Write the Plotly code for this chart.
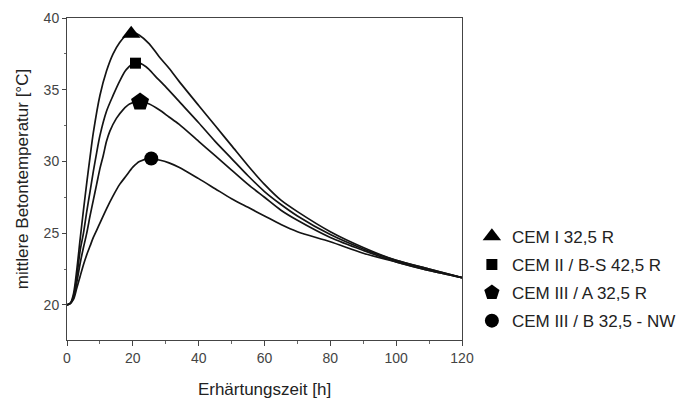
import plotly.graph_objects as go

hours_1 = [0, 1, 2, 3, 4, 5, 6, 7, 8, 10, 12, 14, 16, 18, 20, 22, 25, 28, 31, 34, 40, 45, 50, 55, 60, 65, 70, 80, 90, 100, 110, 120]
temp_1 = [20, 20.1, 20.8, 22.5, 24.6, 26.6, 28.5, 30.3, 32.0, 34.6, 36.3, 37.5, 38.3, 38.8, 39.0, 38.8, 38.2, 37.3, 36.5, 35.6, 33.9, 32.5, 31.1, 29.7, 28.4, 27.3, 26.5, 25.1, 24.0, 23.1, 22.5, 21.9]

hours_2 = [0, 1, 2, 3, 4, 5, 6, 7, 8, 9, 10, 12, 14, 16, 18, 21, 24, 27, 30, 34, 40, 45, 50, 55, 60, 65, 70, 80, 90, 100, 110, 120]
temp_2 = [20, 20.1, 20.6, 22.0, 23.8, 25.0, 26.5, 27.9, 29.3, 30.6, 31.8, 33.5, 34.6, 35.6, 36.4, 36.9, 36.6, 35.9, 35.2, 34.2, 32.7, 31.4, 30.2, 29.0, 27.9, 27.0, 26.2, 24.9, 23.9, 23.1, 22.5, 21.9]

hours_3 = [0, 1, 2, 3, 4, 5, 6, 7, 8, 9, 10, 11, 12, 13, 15, 17, 19, 22, 25, 28, 31, 34, 40, 45, 50, 55, 60, 65, 70, 80, 90, 100, 110, 120]
temp_3 = [20, 20.1, 20.5, 21.6, 22.9, 24.0, 25.0, 26.2, 27.3, 28.4, 29.5, 30.4, 31.4, 32.1, 33.0, 33.6, 34.0, 34.2, 34.0, 33.6, 33.1, 32.6, 31.4, 30.4, 29.4, 28.4, 27.5, 26.6, 25.9, 24.7, 23.8, 23.0, 22.4, 21.9]

hours_4 = [0, 1, 2, 3, 4, 5, 6, 7, 8, 9, 10, 12, 14, 16, 18, 20, 22, 25.5, 28, 31, 34, 40, 45, 50, 55, 60, 65, 70, 80, 90, 100, 110, 120]
temp_4 = [20, 20.1, 20.4, 21.2, 22.0, 22.8, 23.5, 24.1, 24.7, 25.2, 25.7, 26.7, 27.6, 28.4, 29.0, 29.6, 30.0, 30.2, 30.1, 29.9, 29.6, 28.8, 28.1, 27.4, 26.8, 26.2, 25.6, 25.1, 24.4, 23.6, 23.0, 22.4, 21.9]

series_names = ["CEM I 32,5 R", "CEM II / B-S 42,5 R", "CEM III / A 32,5 R", "CEM III / B 32,5 - NW"]
peak_hours = [19.5, 20.8, 22.2, 25.6]
peak_temps = [38.9, 36.85, 34.15, 30.2]

x_ticks = [0, 20, 40, 60, 80, 100, 120]
y_ticks = [20, 25, 30, 35, 40]

symbols = ["triangle-up", "square", "pentagon", "circle"]
sizes = [16, 11, 19, 14]

fig = go.Figure()
curves = [(hours_1, temp_1), (hours_2, temp_2), (hours_3, temp_3), (hours_4, temp_4)]
for hx, ty in curves:
    fig.add_trace(go.Scatter(x=hx, y=ty, mode="lines", showlegend=False,
                             line=dict(color="#141414", width=1.7, shape="spline", smoothing=0.8),
                             hoverinfo="skip"))
for i in range(4):
    fig.add_trace(go.Scatter(x=[peak_hours[i]], y=[peak_temps[i]], mode="markers",
                             name=series_names[i], legendgroup="g%d" % i,
                             marker=dict(symbol=symbols[i], size=sizes[i], color="#000000")))

font_fam = "Liberation Sans, Arial, sans-serif"
fig.update_layout(
    width=690, height=401,
    margin=dict(l=67, r=228, t=18, b=61, autoexpand=False),
    paper_bgcolor="white", plot_bgcolor="white",
    font=dict(family=font_fam, color="#333333", size=14),
    legend=dict(x=1.025, y=0.19, xanchor="left", yanchor="middle",
                font=dict(size=17, color="#222222"), itemsizing="trace",
                bgcolor="rgba(0,0,0,0)", tracegroupgap=3),
    xaxis=dict(range=[0, 120], tickvals=x_ticks, ticks="outside", ticklen=5, tickwidth=1,
               tickcolor="#444", showline=True, linecolor="#444", linewidth=1, mirror=True,
               showgrid=False, zeroline=False,
               minor=dict(dtick=10, ticks="outside", ticklen=3, tickcolor="#666"),
               tickfont=dict(size=14, color="#444"),
               title=dict(text="Erhärtungszeit [h]", font=dict(size=17, color="#222"), standoff=18)),
    yaxis=dict(range=[17.55, 40], tickvals=y_ticks, ticks="outside", ticklen=4, tickwidth=1,
               tickcolor="#444", showline=True, linecolor="#444", linewidth=1, mirror=True,
               showgrid=False, zeroline=False,
               minor=dict(dtick=2.5, ticks="outside", ticklen=2, tickcolor="#666"),
               tickfont=dict(size=14, color="#444"),
               title=dict(text="mittlere Betontemperatur [°C]", font=dict(size=17, color="#222"), standoff=10)),
)

fig.write_html("out.html")
